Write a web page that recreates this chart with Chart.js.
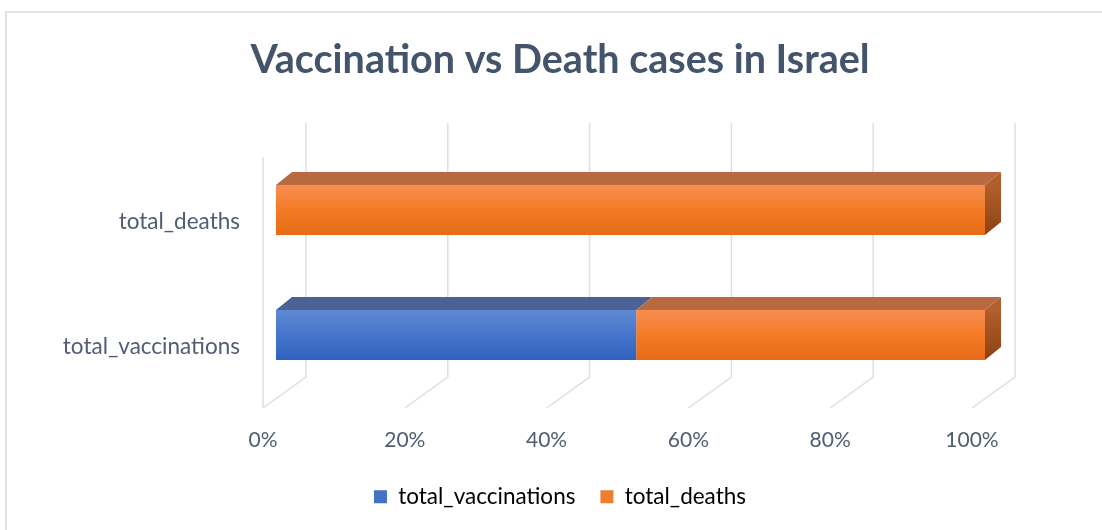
<!DOCTYPE html>
<html>
<head>
<meta charset="utf-8">
<script src="https://cdn.jsdelivr.net/npm/chart.js@4"></script>
<style>
  body { margin: 0; background: #fff; overflow: hidden; }
  #frame { position: absolute; left: 5px; top: 11px; width: 1200px; height: 600px;
           border-left: 2px solid #dfe2ea; border-top: 2px solid #dfe2ea; }
  #wrap { position: absolute; left: 5px; top: 0; width: 1110px; height: 530px; }
</style>
</head>
<body>
<div id="frame"></div>
<div id="wrap"><canvas id="chart"></canvas></div>
<script>
// data
const categories = ['total_deaths', 'total_vaccinations'];
const vaccinationShare = [0, 50.8];
const deathShare = [100, 49.2];
const xTicks = [0, 20, 40, 60, 80, 100];

// 3d look
const depthX = 16, depthY = 13;
const textColor = '#505d72';
const gridColor = '#dcdfe8';

function frontGradient(ctx, colors) {
  const chart = ctx.chart;
  if (ctx.dataIndex === undefined || !chart.scales.y) return colors[1];
  const y = chart.scales.y.getPixelForValue(ctx.dataIndex);
  const g = chart.ctx.createLinearGradient(0, y - 25, 0, y + 25);
  g.addColorStop(0, colors[0]);
  g.addColorStop(0.5, colors[1]);
  g.addColorStop(1, colors[2]);
  return g;
}

const blueFront = ['#6089d4', '#4675cc', '#2f62bf'];
const orangeFront = ['#f68e52', '#f47b26', '#e66b18'];
const topColors = ['#4b6296', '#b8693f'];

const cube = {
  id: 'cube',
  beforeDatasetsDraw(chart) {
    const c = chart.ctx;
    const x = chart.scales.x;
    const area = chart.chartArea;
    c.save();
    c.strokeStyle = gridColor;
    c.lineWidth = 1.5;
    xTicks.forEach(v => {
      const px = x.getPixelForValue(v);
      c.beginPath();
      c.moveTo(px + 30, 123);
      c.lineTo(px + 30, 377);
      c.lineTo(px - 13, 408);
      c.stroke();
    });
    c.beginPath();
    c.moveTo(area.left - 13, 157);
    c.lineTo(area.left - 13, 408);
    c.stroke();
    c.restore();
  },
  afterDatasetsDraw(chart) {
    const c = chart.ctx;
    c.save();
    chart.data.datasets.forEach((ds, di) => {
      const meta = chart.getDatasetMeta(di);
      meta.data.forEach((bar, i) => {
        const x1 = Math.min(bar.base, bar.x), x2 = Math.max(bar.base, bar.x);
        if (x2 - x1 < 0.5) return;
        const yTop = bar.y - bar.height / 2, yBot = bar.y + bar.height / 2;
        c.fillStyle = topColors[di];
        c.beginPath();
        c.moveTo(x1, yTop);
        c.lineTo(x2, yTop);
        c.lineTo(x2 + depthX, yTop - depthY);
        c.lineTo(x1 + depthX, yTop - depthY);
        c.closePath();
        c.fill();
        if (di === chart.data.datasets.length - 1) {
          const g = c.createLinearGradient(0, yTop, 0, yBot);
          g.addColorStop(0, '#b15f2c');
          g.addColorStop(1, '#8e4212');
          c.fillStyle = g;
          c.beginPath();
          c.moveTo(x2, yTop);
          c.lineTo(x2 + depthX, yTop - depthY);
          c.lineTo(x2 + depthX, yBot - depthY);
          c.lineTo(x2, yBot);
          c.closePath();
          c.fill();
        }
      });
    });
    c.restore();
  }
};

Chart.defaults.font.family = 'Lato, "Open Sans", sans-serif';
Chart.defaults.color = textColor;

new Chart(document.getElementById('chart'), {
  type: 'bar',
  data: {
    labels: categories,
    datasets: [
      {
        label: 'total_vaccinations',
        data: vaccinationShare,
        backgroundColor: ctx => frontGradient(ctx, blueFront),
        borderWidth: 0
      },
      {
        label: 'total_deaths',
        data: deathShare,
        backgroundColor: ctx => frontGradient(ctx, orangeFront),
        borderWidth: 0
      }
    ]
  },
  plugins: [cube],
  options: {
    indexAxis: 'y',
    responsive: true,
    maintainAspectRatio: false,
    animation: false,
    categoryPercentage: 1,
    barPercentage: 0.4,
    layout: { padding: { left: 0, right: 0, top: 0, bottom: 12 } },
    plugins: {
      title: {
        display: true,
        text: 'Vaccination vs Death cases in Israel',
        color: '#44546a',
        font: { size: 39.5, weight: 'bold' },
        padding: { top: 37, bottom: 63 }
      },
      legend: {
        position: 'bottom',
        labels: {
          boxWidth: 13,
          boxHeight: 13,
          padding: 25,
          font: { size: 22.5 },
          generateLabels(chart) {
            return chart.data.datasets.map((ds, i) => ({
              text: ds.label,
              fillStyle: i === 0 ? '#4472c4' : '#ed7d31',
              strokeStyle: 'transparent',
              lineWidth: 0,
              datasetIndex: i
            }));
          }
        }
      },
      tooltip: { enabled: false }
    },
    scales: {
      x: {
        stacked: true,
        min: 0,
        max: 100,
        grid: { display: false, drawTicks: false },
        border: { display: false },
        afterBuildTicks(scale) {
          scale.ticks = xTicks.map(v => ({ value: v }));
        },
        afterFit(scale) { scale.height = 63; },
        ticks: {
          labelOffset: -13,
          padding: 30,
          font: { size: 21 },
          callback: v => v + '%'
        }
      },
      y: {
        stacked: true,
        grid: { display: false, drawTicks: false },
        border: { display: false },
        afterFit(scale) { scale.width = 271; },
        ticks: {
          labelOffset: 12,
          padding: 36,
          font: { size: 22.5 }
        }
      },
      yRight: {
        type: 'category',
        position: 'right',
        labels: categories,
        grid: { display: false, drawTicks: false },
        border: { display: false },
        ticks: { display: false },
        afterFit(scale) { scale.width = 130; }
      }
    }
  }
});
</script>
</body>
</html>
